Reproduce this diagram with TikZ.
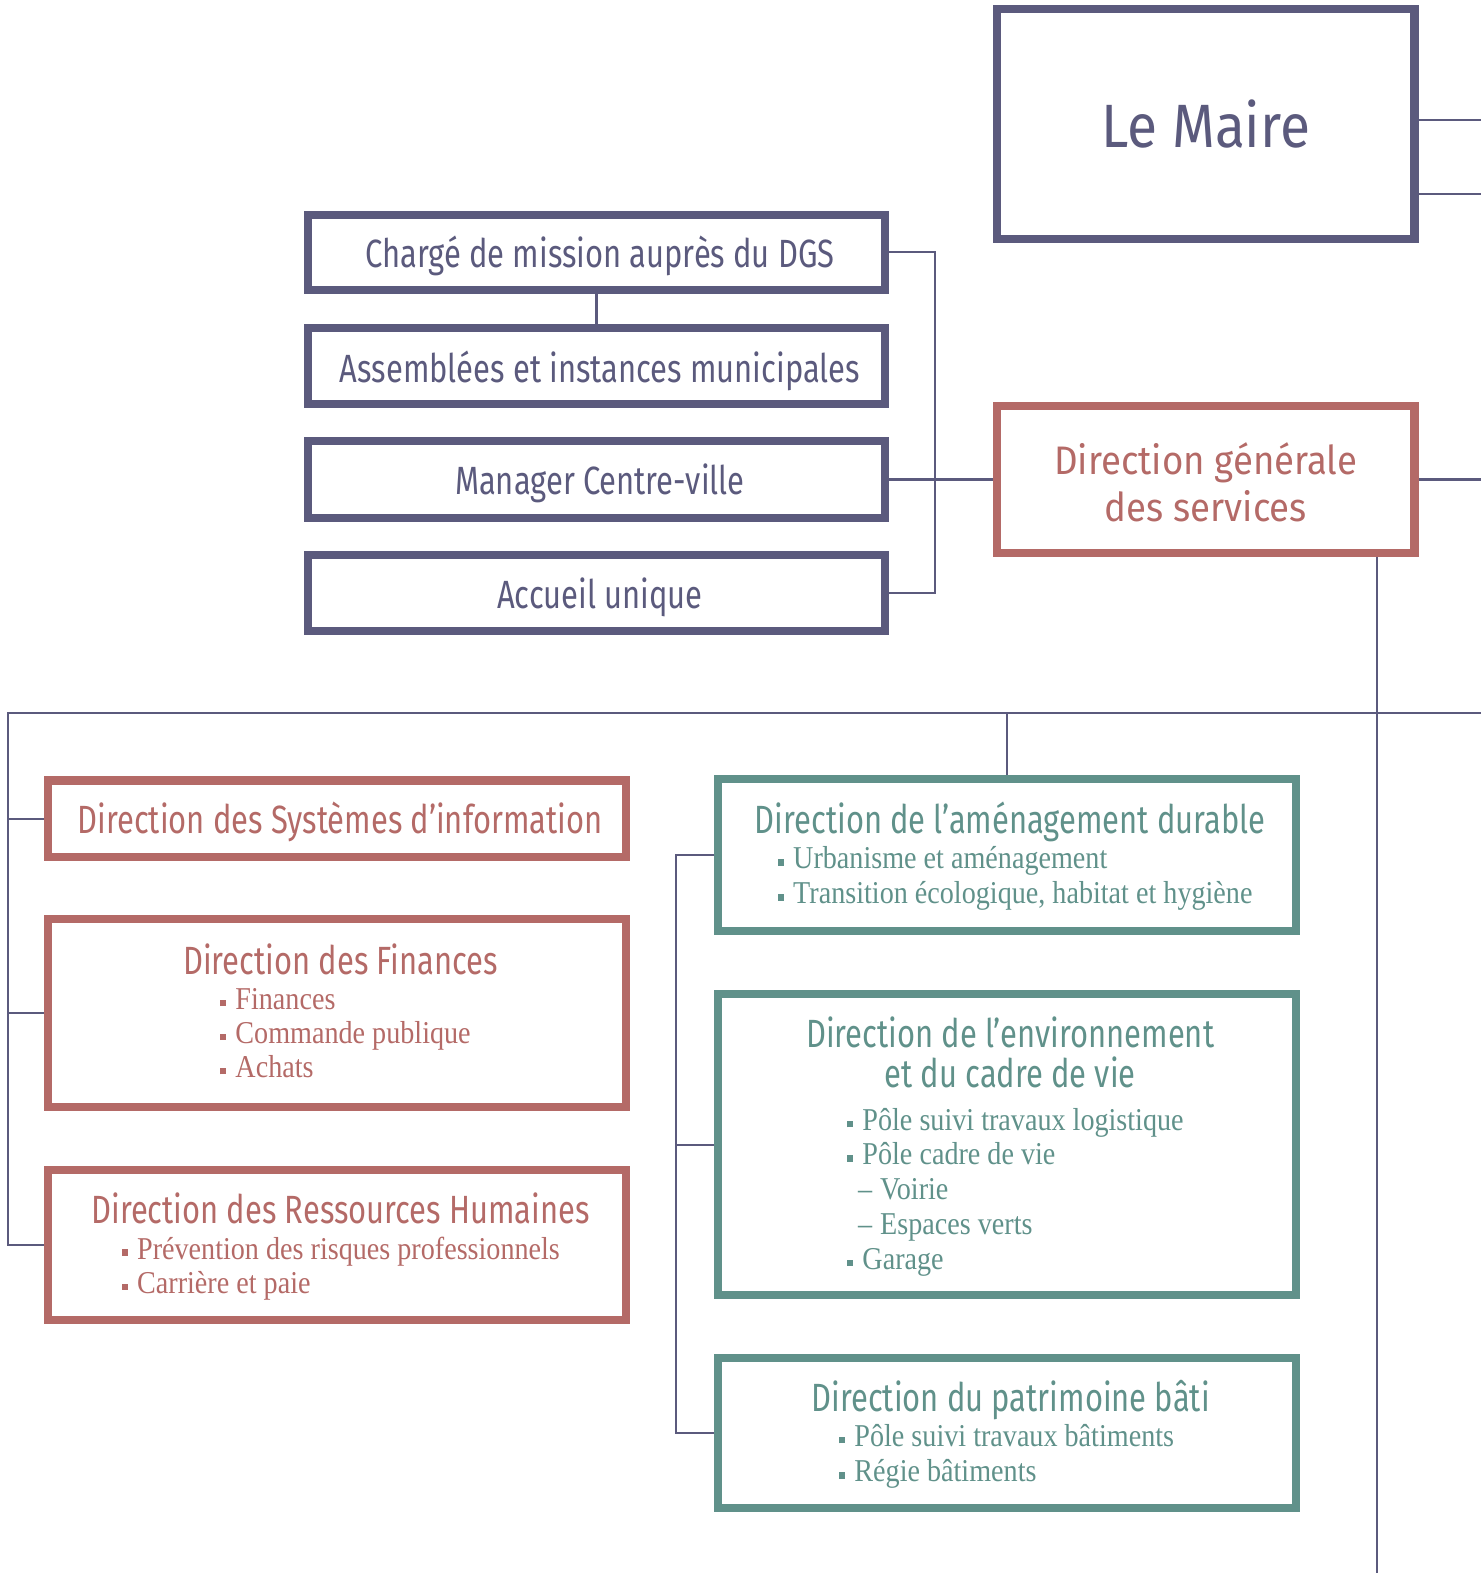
\documentclass[tikz,border=0pt]{standalone}
\usepackage{fontspec}
\setmainfont{Liberation Serif}
\newfontfamily\titlefont[FakeStretch=0.785]{Fira Sans}
\newfontfamily\widefont[FakeStretch=0.92]{Fira Sans}
\newfontfamily\bigfont[FakeStretch=0.9]{Fira Sans}
\newfontfamily\itemfont[FakeStretch=0.885]{Liberation Serif}
\usetikzlibrary{fit}
\definecolor{cpurple}{RGB}{91,90,125}
\definecolor{cred}{RGB}{180,106,103}
\definecolor{cgreen}{RGB}{96,145,138}
\newcommand\bul{\rule[0.1em]{0.2em}{0.2em}\hspace{4.5pt}}
\newcommand\obox[6]{\node[#2, fit={(#3+4,#4+4) (#5-4,#6-4)}] (#1) {};}
\begin{document}
\begin{tikzpicture}[x=0.50169pt,y=-0.50169pt,
  boxp/.style={draw=cpurple,line width=4.01pt,inner sep=0pt,outer sep=2pt,rectangle},
  boxr/.style={boxp,draw=cred},
  boxg/.style={boxp,draw=cgreen},
  conn/.style={draw=cpurple,line width=1.1pt},
  ttl/.style={inner sep=0pt,anchor=base,font=\titlefont\fontsize{19.7}{23}\selectfont},
  ttlw/.style={inner sep=0pt,anchor=base,font=\widefont\fontsize{19.9}{23}\selectfont},
  itm/.style={inner sep=0pt,anchor=base west,font=\itemfont\fontsize{15.9}{19}\selectfont}]
\useasboundingbox (0,0) rectangle (1476,1568);
% boxes
\obox{maire}{boxp}{990}{5}{1414}{242}
\obox{charge}{boxp}{303}{210}{886}{293}
\obox{assemb}{boxp}{303}{323}{886}{407}
\obox{manager}{boxp}{303}{436}{886}{520}
\obox{accueil}{boxp}{303}{549}{886}{633}
\obox{dgs}{boxr}{990}{401}{1414}{555}
\obox{dsi}{boxr}{44}{774}{628}{858}
\obox{fin}{boxr}{44}{912}{628}{1107}
\obox{rh}{boxr}{44}{1162}{628}{1320}
\obox{amen}{boxg}{712}{773}{1296}{932}
\obox{env}{boxg}{712}{987}{1296}{1295}
\obox{pat}{boxg}{712}{1350}{1296}{1507}
% coordinates for free ends
\coordinate (m1) at (1476,120);
\coordinate (m2) at (1476,193);
\coordinate (d1) at (1476,478);
\coordinate (bx) at (932,400);
\coordinate (vb) at (1373,1568);
\coordinate (hl) at (8,711);
\coordinate (hr) at (1476,711);
\coordinate (vx) at (674,1000);
% connectors
\draw[conn] (maire.east |- m1) -- (m1);
\draw[conn] (maire.east |- m2) -- (m2);
\draw[conn] (charge.south) -- (assemb.north);
\draw[conn] (charge.east) -| (bx) |- (accueil.east);
\draw[conn] (manager.east) -- (dgs.west);
\draw[conn] (dgs.east) -- (d1);
\draw[conn] (dgs.south -| vb) -- (vb);
\draw[conn] (hr) -- (hl) |- (rh.west);
\draw[conn] (hl |- dsi.west) -- (dsi.west);
\draw[conn] (hl |- fin.west) -- (fin.west);
\draw[conn] (amen.north |- hl) -- (amen.north);
\draw[conn] (amen.west) -- (amen.west -| vx) |- (pat.west);
\draw[conn] (env.west -| vx) -- (env.west);
% texts
\node[inner sep=0pt,anchor=base,text=cpurple,font=\bigfont\fontsize{30.6}{36}\selectfont] (tmaire) at (1202,147) {Le Maire};
\node[ttl,text=cpurple] (tcharge) at (598,267) {Chargé de mission auprès du DGS};
\node[ttl,text=cpurple] (tassemb) at (598,381) {Assemblées et instances municipales};
\node[ttl,text=cpurple] (tmanager) at (598,493) {Manager Centre-ville};
\node[ttl,text=cpurple] (taccueil) at (598,607) {Accueil unique};
\node[ttlw,text=cred] (tdgs1) at (1202,473) {Direction générale};
\node[ttlw,text=cred] (tdgs2) at (1202,520) {des services};
\node[ttl,text=cred] (tdsi) at (339,831) {Direction des Systèmes d’information};
\node[ttl,text=cred] (tfin) at (339.5,971) {Direction des Finances};
\node[itm,text=cred] (fin1) at (219,1006) {\bul Finances};
\node[itm,text=cred] (fin2) at (219,1040) {\bul Commande publique};
\node[itm,text=cred] (fin3) at (219,1074) {\bul Achats};
\node[ttl,text=cred] (trh) at (339.5,1220) {Direction des Ressources Humaines};
\node[itm,text=cred] (rh1) at (121,1255) {\bul Prévention des risques professionnels};
\node[itm,text=cred] (rh2) at (121,1289) {\bul Carrière et paie};
\node[ttl,text=cgreen] (tamen) at (1007,831) {Direction de l’aménagement durable};
\node[itm,text=cgreen] (amen1) at (775,866) {\bul Urbanisme et aménagement};
\node[itm,text=cgreen] (amen2) at (775,901) {\bul Transition écologique, habitat et hygiène};
\node[ttl,text=cgreen] (tenv1) at (1007,1044) {Direction de l’environnement};
\node[ttl,text=cgreen] (tenv2) at (1007,1084) {et du cadre de vie};
\node[itm,text=cgreen] (env1) at (844,1127) {\bul Pôle suivi travaux logistique};
\node[itm,text=cgreen] (env2) at (844,1161) {\bul Pôle cadre de vie};
\node[itm,text=cgreen] (env3) at (855,1196) {–\hspace{4pt}Voirie};
\node[itm,text=cgreen] (env4) at (855,1231) {–\hspace{4pt}Espaces verts};
\node[itm,text=cgreen] (env5) at (844,1265) {\bul Garage};
\node[ttl,text=cgreen] (tpat) at (1007.5,1407) {Direction du patrimoine bâti};
\node[itm,text=cgreen] (pat1) at (836,1442) {\bul Pôle suivi travaux bâtiments};
\node[itm,text=cgreen] (pat2) at (836,1477) {\bul Régie bâtiments};
\end{tikzpicture}
\end{document}
